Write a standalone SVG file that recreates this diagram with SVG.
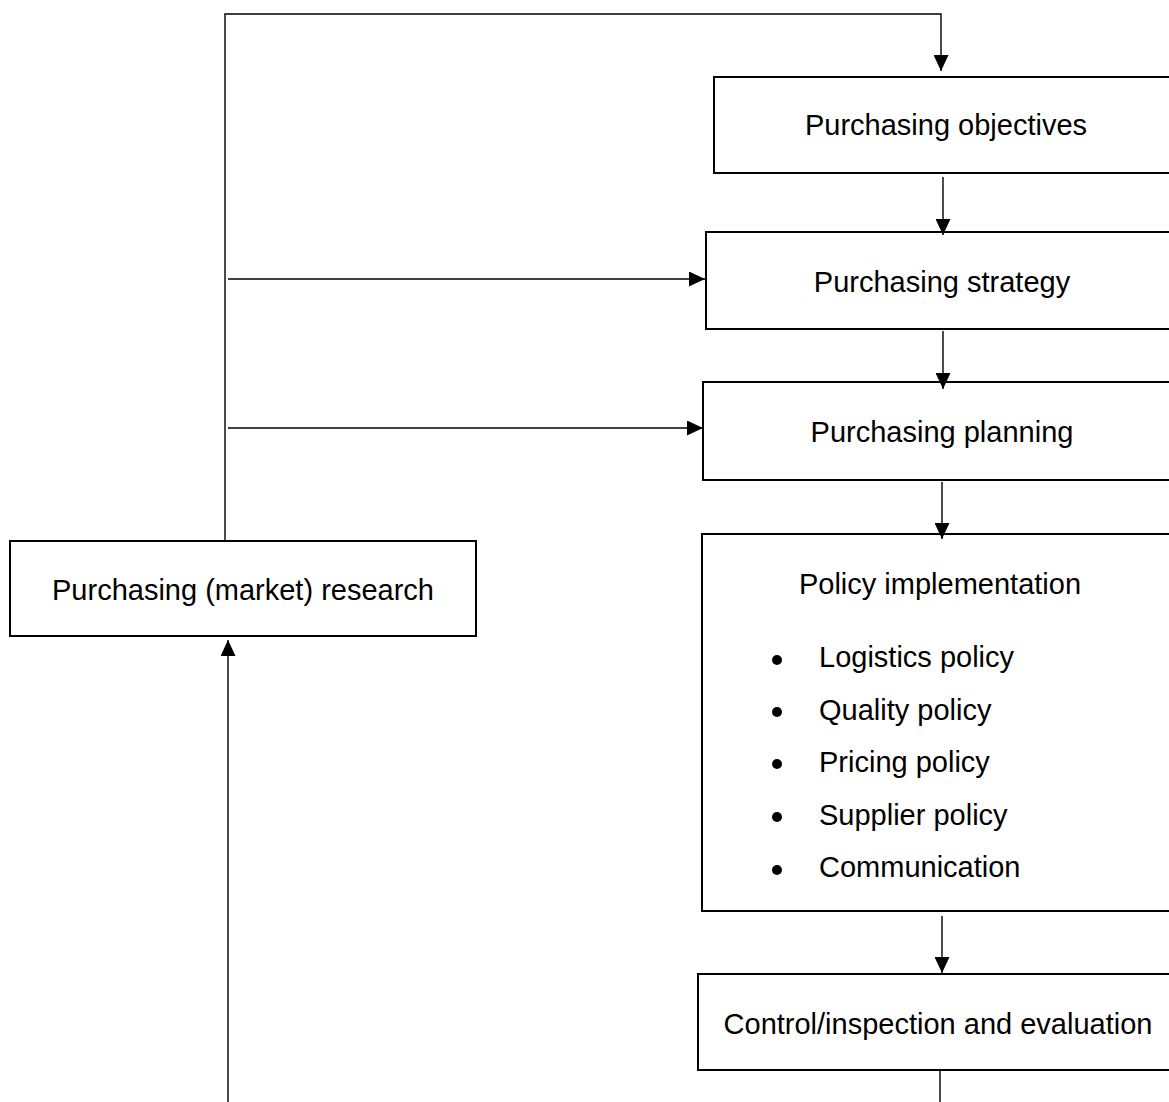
<svg xmlns="http://www.w3.org/2000/svg" width="1169" height="1102" viewBox="0 0 1169 1102">
<style>
.box{fill:#fff;stroke:#000;stroke-width:2}
.t{font-family:"Liberation Sans",Arial,sans-serif;font-size:29px;fill:#000}
.c{text-anchor:middle}
.ln{fill:none;stroke:#000;stroke-width:1.4}
</style>
<defs>
<marker id="ah" viewBox="0 0 16 15" refX="16" refY="7.5" markerWidth="16" markerHeight="15" markerUnits="userSpaceOnUse" orient="auto">
<path d="M0,0 L16,7.5 L0,15 Z" fill="#000"/>
</marker>
</defs>
<rect width="1169" height="1102" fill="#fff"/>
<g id="objectives">
<rect class="box" x="714" y="77" width="470" height="96"/>
<text class="t c" x="946" y="135">Purchasing objectives</text>
</g>
<g id="strategy">
<rect class="box" x="706" y="232" width="478" height="97"/>
<text class="t c" x="942" y="292">Purchasing strategy</text>
</g>
<g id="planning">
<rect class="box" x="703" y="382" width="481" height="98"/>
<text class="t c" x="942" y="442">Purchasing planning</text>
</g>
<g id="policy">
<rect class="box" x="702" y="534" width="482" height="377"/>
<text class="t c" x="940" y="594">Policy implementation</text>
<g fill="#000">
<circle cx="777" cy="660" r="5"/>
<circle cx="777" cy="712" r="5"/>
<circle cx="777" cy="764" r="5"/>
<circle cx="777" cy="817" r="5"/>
<circle cx="777" cy="870" r="5"/>
</g>
<text class="t" x="819" y="667">Logistics policy</text>
<text class="t" x="819" y="720">Quality policy</text>
<text class="t" x="819" y="772">Pricing policy</text>
<text class="t" x="819" y="825">Supplier policy</text>
<text class="t" x="819" y="877">Communication</text>
</g>
<g id="control">
<rect class="box" x="698" y="974" width="486" height="96"/>
<text class="t c" x="938" y="1034">Control/inspection and evaluation</text>
</g>
<g id="research">
<rect class="box" x="10" y="541" width="466" height="95"/>
<text class="t c" x="243" y="600">Purchasing (market) research</text>
</g>
<g id="connectors">
<path class="ln" d="M225,540 V14 H941 V71" marker-end="url(#ah)"/>
<path class="ln" d="M943,177 V235" marker-end="url(#ah)"/>
<path class="ln" d="M943,331 V389" marker-end="url(#ah)"/>
<path class="ln" d="M942,482 V539" marker-end="url(#ah)"/>
<path class="ln" d="M942,916 V973" marker-end="url(#ah)"/>
<path class="ln" d="M940,1071 V1102"/>
<path class="ln" d="M228,279 H705" marker-end="url(#ah)"/>
<path class="ln" d="M228,428 H703" marker-end="url(#ah)"/>
<path class="ln" d="M228,1102 V640" marker-end="url(#ah)"/>
</g>
</svg>
